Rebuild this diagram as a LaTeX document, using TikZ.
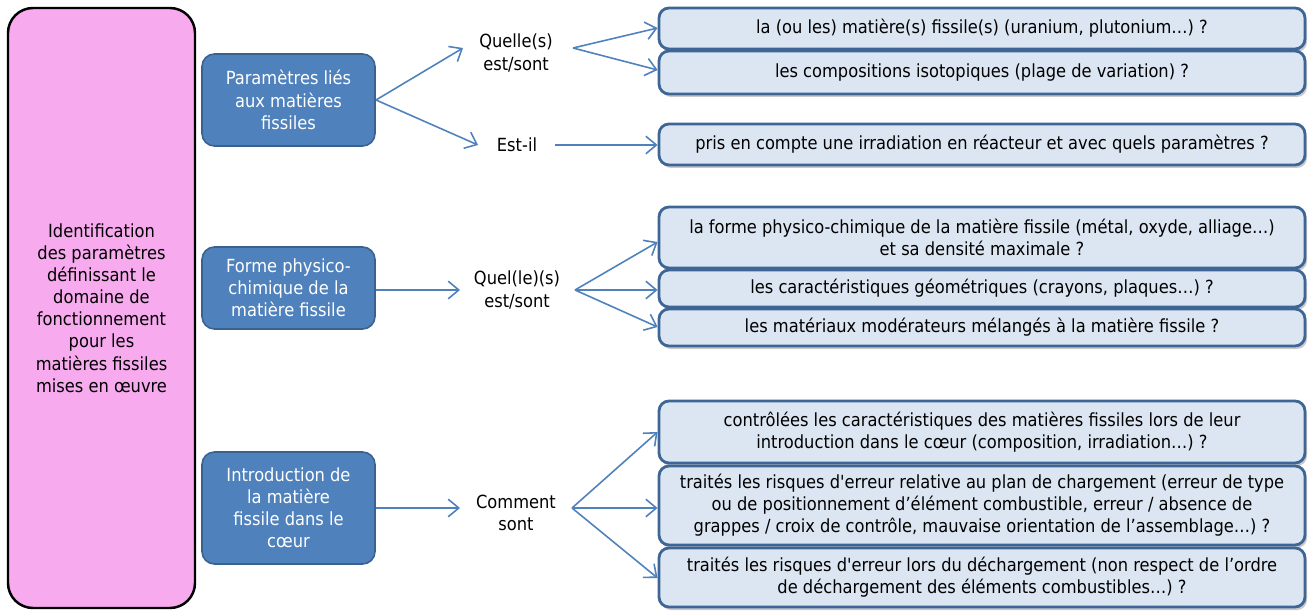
\documentclass[tikz,border=0pt]{standalone}
\usepackage{fontspec}
\setmainfont[Ligatures=TeXOff]{DejaVu Sans Condensed}
\usetikzlibrary{fit,shadows,arrows.meta}
\definecolor{pinkfill}{HTML}{F7AAEE}
\definecolor{bluefill}{HTML}{4F81BD}
\definecolor{blueedge}{HTML}{3A6291}
\definecolor{paleblue}{HTML}{DCE6F2}
\definecolor{paleedge}{HTML}{3D6596}
\definecolor{linkblue}{HTML}{4F81BD}
\tikzset{
  x=0.02cm, y=-0.02cm,
  txt/.style={font=\fontsize{10.3pt}{12.6pt}\selectfont, align=center},
  rootbox/.style={txt, draw=black, line width=1.4pt, fill=pinkfill,
    rounded corners=0.5cm, inner sep=0pt},
  topicbox/.style={txt, draw=blueedge, line width=0.9pt, fill=bluefill,
    text=white, rounded corners=0.25cm, inner sep=0pt},
  askbox/.style={txt, draw=paleedge, line width=1.6pt, fill=paleblue,
    rounded corners=0.2cm, inner sep=0pt,
    drop shadow={shadow xshift=0.04cm, shadow yshift=-0.06cm, opacity=0.35, fill=black!60}},
  cue/.style={txt, inner sep=0pt},
  link/.style={draw=linkblue, line width=0.9pt, -{Straight Barb[length=6pt,width=10pt]}},
}
\begin{document}
\begin{tikzpicture}
\useasboundingbox (0,0) rectangle (1308,611);

% left column
\node[rootbox, fit={(8,8) (195,608)}] (root) {};
\node[txt] at (root.center) {Identification\\des paramètres\\définissant le\\domaine de\\fonctionnement\\pour les\\matières fissiles\\mises en œuvre};

% topic boxes
\node[topicbox, fit={(202,54) (375,146)}] (t1) {};
\node[txt, text=white] at (t1.center) {Paramètres liés\\aux matières\\fissiles};
\node[topicbox, fit={(202,247) (375,329)}] (t2) {};
\node[txt, text=white] at (t2.center) {Forme physico-\\chimique de la\\matière fissile};
\node[topicbox, fit={(202,452) (375,564)}] (t3) {};
\node[txt, text=white] at (t3.center) {Introduction de\\la matière\\fissile dans le\\cœur};

% question cues
\node[cue] (q1) at (516,53) {Quelle(s)\\est/sont};
\node[cue] (q2) at (517,145) {Est-il};
\node[cue] (q3) at (517,290) {Quel(le)(s)\\est/sont};
\node[cue] (q4) at (516,513) {Comment\\sont};

% question boxes
\node[askbox, fit={(659,8) (1305,49)}] (a1) {};
\node[txt] at (a1.center) {la (ou les) matière(s) fissile(s) (uranium, plutonium…) ?};
\node[askbox, fit={(659,51) (1305,94)}] (a2) {};
\node[txt] at (a2.center) {les compositions isotopiques (plage de variation) ?};
\node[askbox, fit={(659,124) (1305,165)}] (a3) {};
\node[txt] at (a3.center) {pris en compte une irradiation en réacteur et avec quels paramètres ?};

\node[askbox, fit={(659,207) (1305,268)}] (b1) {};
\node[txt] at (b1.center) {la forme physico-chimique de la matière fissile (métal, oxyde, alliage…)\\et sa densité maximale ?};
\node[askbox, fit={(659,270) (1305,307)}] (b2) {};
\node[txt] at (b2.center) {les caractéristiques géométriques (crayons, plaques…) ?};
\node[askbox, fit={(659,309) (1305,346)}] (b3) {};
\node[txt] at (b3.center) {les matériaux modérateurs mélangés à la matière fissile ?};

\node[askbox, fit={(659,401) (1305,463)}] (c1) {};
\node[txt] at (c1.center) {contrôlées les caractéristiques des matières fissiles lors de leur\\introduction dans le cœur (composition, irradiation…) ?};
\node[askbox, fit={(659,466) (1305,545)}] (c2) {};
\node[txt] at (c2.center) {traités les risques d'erreur relative au plan de chargement (erreur de type\\ou de positionnement d’élément combustible, erreur / absence de\\grappes / croix de contrôle, mauvaise orientation de l’assemblage…) ?};
\node[askbox, fit={(659,548) (1305,607)}] (c3) {};
\node[txt] at (c3.center) {traités les risques d'erreur lors du déchargement (non respect de l’ordre\\de déchargement des éléments combustibles…) ?};

% anchor points for the connectors
\coordinate (t1e) at (376,100);
\coordinate (q1w) at (463,48);
\coordinate (q2w) at (478,145);
\coordinate (q1e) at (573,48);
\coordinate (q2e) at (555,145);
\coordinate (t2e) at (376,290);
\coordinate (q3w) at (460,290);
\coordinate (q3e) at (575,290);
\coordinate (t3e) at (376,508);
\coordinate (q4w) at (460,508);
\coordinate (q4e) at (572,508);

\path[link] (t1e) -- (q1w);
\path[link] (t1e) -- (q2w);
\path[link] (q1e) -- (a1.west |- 0,28);
\path[link] (q1e) -- (a2.west |- 0,70);
\path[link] (q2e) -- (a3.west |- 0,145);

\path[link] (t2e) -- (q3w);
\path[link] (q3e) -- (b1.west |- 0,242);
\path[link] (q3e) -- (b2.west |- 0,290);
\path[link] (q3e) -- (b3.west |- 0,327);

\path[link] (t3e) -- (q4w);
\path[link] (q4e) -- (c1.west |- 0,432);
\path[link] (q4e) -- (c2.west |- 0,508);
\path[link] (q4e) -- (c3.west |- 0,578);
\end{tikzpicture}
\end{document}
